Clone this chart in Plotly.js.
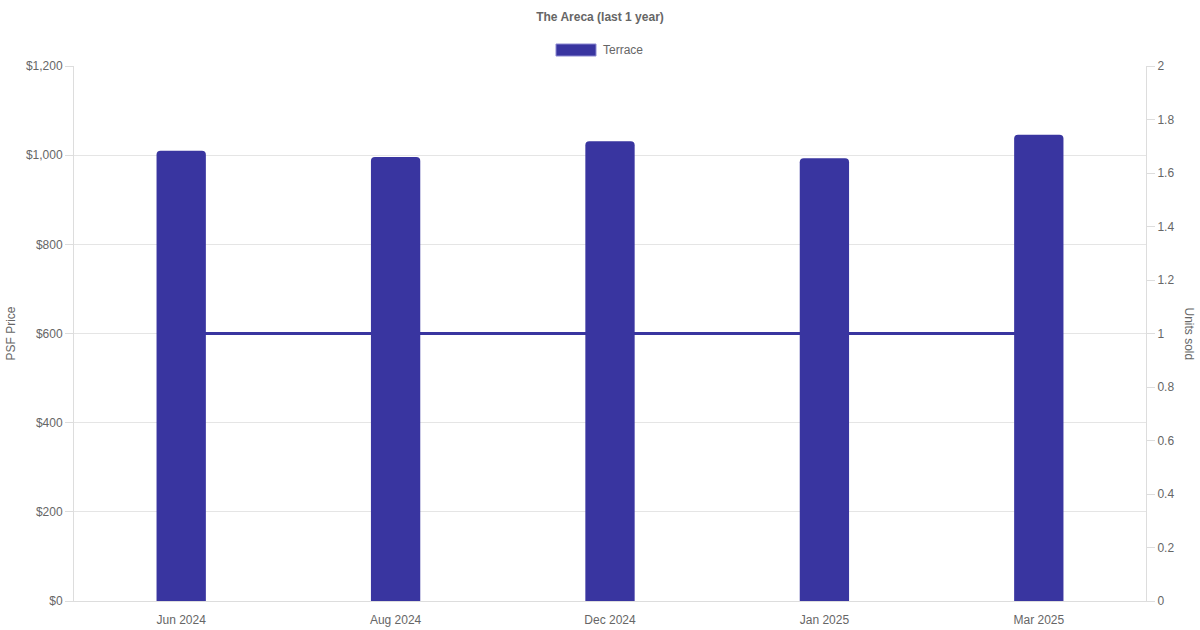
<!DOCTYPE html>
<html>
<head>
<meta charset="utf-8">
<script src="https://cdn.plot.ly/plotly-3.0.1.min.js"></script>
<style>
html,body{margin:0;padding:0;background:#fff;}
#chart{width:1200px;height:630px;}
</style>
</head>
<body>
<div id="chart"></div>
<script>
const categories = ["Jun 2024", "Aug 2024", "Dec 2024", "Jan 2025", "Mar 2025"];
const psfPrice = [1010, 996, 1031, 993, 1046];
const unitsSold = [1, 1, 1, 1, 1];
const seriesName = "Terrace";
const psfTickVals = [0, 200, 400, 600, 800, 1000, 1200];
const psfTickText = ["$0", "$200", "$400", "$600", "$800", "$1,000", "$1,200"];

const color = "#3935a0";
const font = {family: "Liberation Sans, Arial, Helvetica, sans-serif", size: 12, color: "#666"};

const lineTrace = {
  type: "scatter", mode: "lines",
  x: categories, y: unitsSold,
  xaxis: "x", yaxis: "y",
  line: {color: color, width: 3},
  name: "Units sold", showlegend: false, hoverinfo: "skip"
};
const barTrace = {
  type: "bar",
  x: categories, y: psfPrice,
  xaxis: "x", yaxis: "y2",
  marker: {color: color, cornerradius: 4, line: {width: 0}},
  width: 0.23,
  name: seriesName, showlegend: false
};

const layout = {
  width: 1200, height: 630,
  paper_bgcolor: "#fff", plot_bgcolor: "#fff",
  font: font,
  margin: {l: 74, r: 54, t: 66, b: 29},
  title: {text: "<b>The Areca (last 1 year)</b>", font: {family: font.family, size: 12, color: "#666"},
          x: 0.5, xanchor: "center", xref: "container", yref: "container", y: 1 - 16.5/630, yanchor: "middle"},
  showlegend: false,
  xaxis: {
    type: "category", showgrid: false, zeroline: false,
    showline: true, linecolor: "#ddd", linewidth: 1,
    ticks: "", tickfont: font, ticklabelstandoff: 8,
    fixedrange: true
  },
  yaxis: {
    side: "right", range: [0, 2], dtick: 0.2, tick0: 0,
    showgrid: false, zeroline: false, showline: true, linecolor: "#ddd",
    ticks: "outside", ticklen: 8, tickcolor: "#ddd", tickfont: font,
    fixedrange: true
  },
  yaxis2: {
    side: "left", overlaying: "y", range: [0, 1200],
    tickvals: psfTickVals, ticktext: psfTickText,
    showgrid: true, gridcolor: "#e5e5e5", gridwidth: 1,
    zeroline: true, zerolinecolor: "#ccc", zerolinewidth: 1,
    showline: true, linecolor: "#ddd",
    ticks: "outside", ticklen: 8, tickcolor: "#ddd", tickfont: font,
    title: {text: "PSF Price", font: font, standoff: 7},
    fixedrange: true
  },
  shapes: [
    {type: "rect", xref: "paper", yref: "paper",
     x0: (556 - 74) / 1072, x1: (596 - 74) / 1072,
     y0: (601 - 56) / 535, y1: (601 - 44) / 535,
     fillcolor: color, line: {color: "#8b88d0", width: 1}}
  ],
  annotations: [
    {text: seriesName, xref: "paper", yref: "paper",
     x: (601 - 74) / 1072, y: (601 - 50) / 535, xanchor: "left", yanchor: "middle",
     showarrow: false, font: font},
    {text: "Units sold", xref: "paper", yref: "paper",
     x: (1189 - 74) / 1072, y: 0.5, xanchor: "center", yanchor: "middle",
     textangle: 90, showarrow: false, font: font}
  ]
};

Plotly.newPlot("chart", [lineTrace, barTrace], layout, {staticPlot: true, displayModeBar: false});
</script>
</body>
</html>
